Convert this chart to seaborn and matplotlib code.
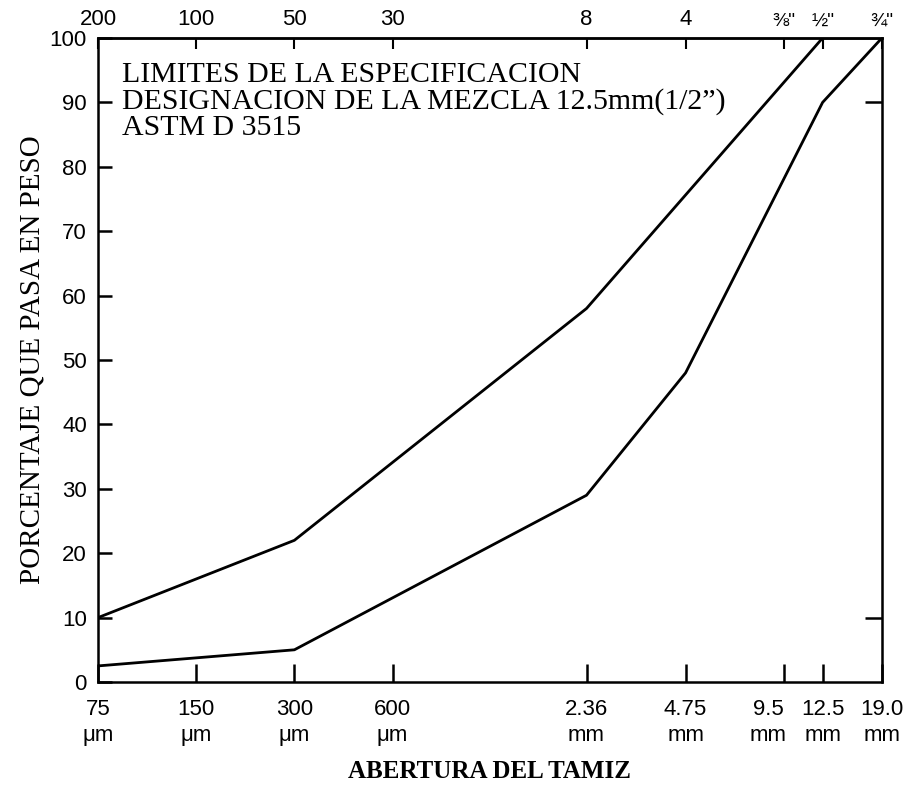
import matplotlib
matplotlib.use("Agg")
import matplotlib.pyplot as plt
import matplotlib.transforms as mtransforms
import seaborn as sns
import pandas as pd

# Sieve openings (mm) and the specification limits (% passing)
sieve_mm = [0.075, 0.15, 0.3, 0.6, 2.36, 4.75, 9.5, 12.5, 19.0]
bottom_labels = ["75\nμm", "150\nμm", "300\nμm", "600\nμm", "2.36\nmm",
                 "4.75\nmm", "9.5\nmm", "12.5\nmm", "19.0\nmm"]
top_labels = ["200", "100", "50", "30", "8", "4", "⅜\"", "½\"", "¾\""]

upper_size = [0.075, 0.3, 2.36, 12.5, 19.0]
upper_pass = [10, 22, 58, 100, 100]
lower_size = [0.075, 0.3, 2.36, 4.75, 12.5, 19.0]
lower_pass = [2.5, 5, 29, 48, 90, 100]

df = pd.concat([
    pd.DataFrame({"size": upper_size, "passing": upper_pass, "limit": "superior"}),
    pd.DataFrame({"size": lower_size, "passing": lower_pass, "limit": "inferior"}),
], ignore_index=True)

sns.set_style("ticks")
plt.rcParams["font.family"] = ["Liberation Sans", "DejaVu Sans"]
plt.rcParams["text.color"] = "black"
plt.rcParams["axes.labelcolor"] = "black"
plt.rcParams["xtick.color"] = "black"
plt.rcParams["ytick.color"] = "black"

fig = plt.figure(figsize=(9.12, 7.90), dpi=100)
ax = fig.add_axes([0.1075, 0.1367, 0.8595, 0.8152])

sns.lineplot(data=df, x="size", y="passing", hue="limit", units="limit",
             estimator=None, sort=False, palette=["black", "black"],
             linewidth=2.0, legend=False, ax=ax)

ax.set_xscale("log")
ax.set_xlim(0.075, 19.0)
ax.set_ylim(0, 100)

ax.set_xticks(sieve_mm)
ax.set_xticklabels(bottom_labels, fontsize=16, linespacing=1.35)
ax.xaxis.set_minor_locator(matplotlib.ticker.NullLocator())
ax.tick_params(axis="x", which="major", direction="in", length=13, width=1.8,
               pad=12, colors="black")

# nudge the 9.5 mm label left so it clears its neighbour
shift = mtransforms.ScaledTranslation(-11 / 72, 0, fig.dpi_scale_trans)
lab95 = ax.get_xticklabels()[6]
lab95.set_transform(lab95.get_transform() + shift)

ax.set_yticks(range(0, 101, 10))
ax.tick_params(axis="y", which="major", direction="in", length=10, width=1.8,
               labelsize=16, pad=8, colors="black")

top = ax.secondary_xaxis("top")
top.set_xticks(sieve_mm)
top.xaxis.set_minor_locator(matplotlib.ticker.NullLocator())
top.set_xticklabels(top_labels, fontsize=16)
top.tick_params(which="major", direction="in", length=8, width=1.5, pad=6,
                colors="black")
top.tick_params(which="minor", length=0)
for lab in top.get_xticklabels()[6:]:
    lab.set_fontsize(14)
top.spines["top"].set_linewidth(1.8)

right = ax.secondary_yaxis("right")
right.set_yticks([10, 90])
right.set_yticklabels([])
right.tick_params(direction="in", length=12, width=1.8, colors="black")

for s in ax.spines.values():
    s.set_linewidth(1.8)
    s.set_color("black")

ax.set_xlabel("ABERTURA DEL TAMIZ", family="Liberation Serif", fontsize=18,
              fontweight="bold", labelpad=10)
ax.set_ylabel("PORCENTAJE QUE PASA EN PESO", family="Liberation Serif",
              fontsize=21, labelpad=0)
ax.yaxis.set_label_coords(-0.067, 0.5)

ax.text(0.03, 0.962,
        "LIMITES DE LA ESPECIFICACION\nDESIGNACION DE LA MEZCLA 12.5mm(1/2\u201d)\nASTM D 3515",
        transform=ax.transAxes, family="Liberation Serif", fontsize=21.5,
        va="top", ha="left", linespacing=0.98)

fig.savefig("out.png", dpi=100)
